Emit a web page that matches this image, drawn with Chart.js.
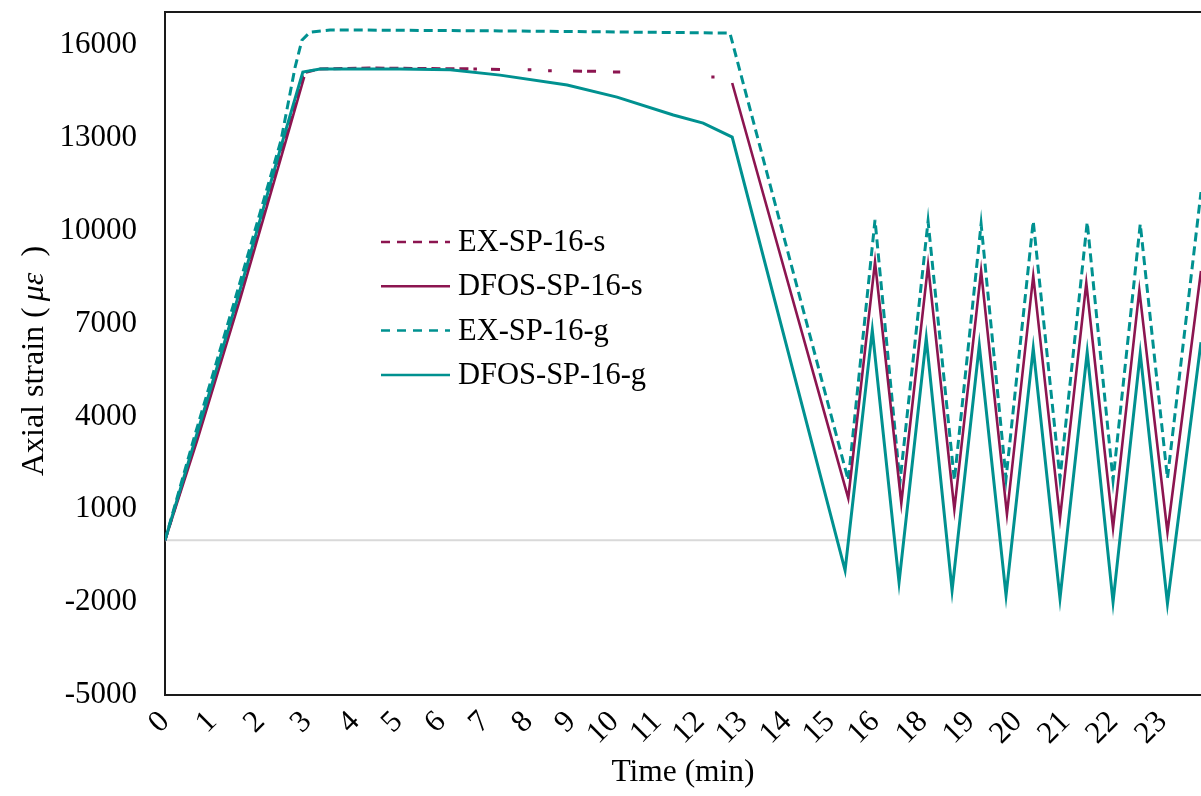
<!DOCTYPE html>
<html>
<head>
<meta charset="utf-8">
<script src="https://cdn.jsdelivr.net/npm/chart.js@4.4.1/dist/chart.umd.min.js"></script>
<style>
  html, body { margin: 0; padding: 0; background: #fff; }
  canvas { display: block; }
</style>
</head>
<body>
<canvas id="strainChart" width="1201" height="796"></canvas>
<script>
// time axis labels (17 is skipped in the original figure) and where they sit on the axis
const timeLabels = ['0', '1', '2', '3', '4', '5', '6', '7', '8', '9', '10', '11', '12',
                    '13', '14', '15', '16', '18', '19', '20', '21', '22', '23'];
const timeTickAt = [0, 1.04, 2.1, 3.13, 4.19, 5.14, 6.09, 7.06, 8.01, 8.96, 9.91, 10.85, 11.8,
                    12.75, 13.72, 14.67, 15.66, 16.72, 17.76, 18.8, 19.86, 20.92, 22.0];
const strainTicks = [-5000, -2000, 1000, 4000, 7000, 10000, 13000, 16000];

// EX-SP-16-s : extensometer, steel side (signal lost on the plateau)
const exS_t = [0, 0.68, 1.6, 2.62, 3.05, 3.4, 4.5, 6.88, null, 7.19, 7.39, null, 8.0, 8.08, null,
               8.45, 8.53, null, 9.0, 9.6, null, 9.88, 10.04, null, 12.05, 12.12];
const exS_v = [0, 3250, 7760, 12930, 15100, 15230, 15260, 15230, null, 15220, 15210, null, 15200, 15200, null,
               15170, 15170, null, 15160, 15150, null, 15130, 15130, null, 14970, 14970];

// DFOS-SP-16-s : fibre sensor, steel side
const dfosS_t = [0, 0.71, 1.65, 2.67, 3.07, null, 12.51, 15.07, 15.66, 16.24, 16.83, 17.41, 18.0,
                 18.57, 19.15, 19.74, 20.32, 20.91, 21.49, 22.11, 22.85];
const dfosS_v = [0, 3230, 7760, 12930, 14970, null, 14775, 1360, 8990, 1200, 8890, 1000, 8700,
                 840, 8540, 710, 8310, 390, 8080, 260, 8700];

// EX-SP-16-g : extensometer, GFRP side
const exG_t = [0, 0.64, 1.54, 2.56, 2.87, 3.02, 3.2, 3.64, 5.18, 7.39, 9.6, 12.46, 15.07, 15.66, 16.21,
               16.83, 17.41, 18.0, 18.55, 19.15, 19.74, 20.34, 20.91, 21.51, 22.11, 22.85];
const exG_v = [0, 3300, 7760, 12930, 15290, 16160, 16420, 16490, 16480, 16460, 16430, 16390, 1940, 10350, 1880,
               10310, 1940, 10220, 2000, 10310, 2000, 10280, 1940, 10220, 2000, 11250];

// DFOS-SP-16-g : fibre sensor, GFRP side
const dfosG_t = [0, 0.66, 0.93, 1.59, 2.6, 3.04, 3.42, 5.18, 6.29, 7.39, 8.87, 9.97, 11.21, 11.87, 12.51,
                 15.0, 15.6, 16.19, 16.79, 17.36, 17.96, 18.55, 19.15, 19.74, 20.34, 20.91, 21.51, 22.11, 22.85];
const dfosG_v = [0, 3230, 4530, 7760, 12930, 15130, 15230, 15230, 15200, 15030, 14710, 14320, 13740, 13480, 13030,
                 -970, 6790, -1360, 6530, -1620, 6300, -1780, 6200, -1880, 6080, -2000, 6040, -2040, 6400];

const maroon = '#8c1550';
const teal = '#009190';
const serif = "'Liberation Serif', 'Times New Roman', serif";
const fontSize = 31;

function pairs(ts, vs) {
    return ts.map((t, i) => (t === null ? { x: null, y: null } : { x: t, y: vs[i] }));
}

// grey zero line and the top edge of the plot frame
const frameLines = {
    id: 'frameLines',
    beforeDatasetsDraw(chart) {
        const ctx = chart.ctx, area = chart.chartArea;
        const y0 = chart.scales.y.getPixelForValue(0);
        ctx.save();
        ctx.strokeStyle = '#d9d9d9';
        ctx.lineWidth = 2;
        ctx.beginPath();
        ctx.moveTo(area.left, y0);
        ctx.lineTo(area.right, y0);
        ctx.stroke();
        ctx.strokeStyle = '#1a1a1a';
        ctx.beginPath();
        ctx.moveTo(area.left, area.top);
        ctx.lineTo(area.right, area.top);
        ctx.stroke();
        ctx.restore();
    }
};

// y axis title with the italic micro-strain symbol
const yTitle = {
    id: 'yTitle',
    afterDraw(chart) {
        const ctx = chart.ctx;
        // text, font style, space after
        const parts = [['Axial strain (', '', 6], ['\u03bc\u03b5', 'italic ', 8], [' )', '', 0]];
        ctx.save();
        ctx.translate(35, 361);
        ctx.rotate(-Math.PI / 2);
        ctx.fillStyle = '#000';
        ctx.textBaseline = 'middle';
        let total = 0;
        parts.forEach(p => { ctx.font = p[1] + '32px ' + serif; total += ctx.measureText(p[0]).width + p[2]; });
        let x = -total / 2;
        parts.forEach(p => {
            ctx.font = p[1] + '32px ' + serif;
            ctx.fillText(p[0], x, 0);
            x += ctx.measureText(p[0]).width + p[2];
        });
        ctx.restore();
    }
};

// legend drawn inside the plot, as in the original
const innerLegend = {
    id: 'innerLegend',
    afterDraw(chart) {
        const ctx = chart.ctx;
        const x0 = 381, y0 = 242, rowH = 44.3, sample = 69;
        ctx.save();
        ctx.font = '30.5px ' + serif;
        ctx.textBaseline = 'middle';
        chart.data.datasets.forEach((ds, i) => {
            const y = y0 + i * rowH;
            ctx.strokeStyle = ds.borderColor;
            ctx.lineWidth = 2.5;
            ctx.setLineDash(ds.borderDash ? [9, 7] : []);
            ctx.beginPath();
            ctx.moveTo(x0, y);
            ctx.lineTo(x0 + sample, y);
            ctx.stroke();
            ctx.setLineDash([]);
            ctx.fillStyle = '#000';
            ctx.fillText(ds.label, x0 + sample + 8, y + 1);
        });
        ctx.restore();
    }
};

const ctx = document.getElementById('strainChart').getContext('2d');
const strainChart = new Chart(ctx, {
    type: 'line',
    data: {
        datasets: [{
            label: 'EX-SP-16-s',
            data: pairs(exS_t, exS_v),
            borderColor: maroon,
            borderWidth: 3,
            borderDash: [9, 5],
            order: 4
        }, {
            label: 'DFOS-SP-16-s',
            data: pairs(dfosS_t, dfosS_v),
            borderColor: maroon,
            borderWidth: 2.6,
            order: 2
        }, {
            label: 'EX-SP-16-g',
            data: pairs(exG_t, exG_v),
            borderColor: teal,
            borderWidth: 3,
            borderDash: [9, 5],
            order: 3
        }, {
            label: 'DFOS-SP-16-g',
            data: pairs(dfosG_t, dfosG_v),
            borderColor: teal,
            borderWidth: 3,
            order: 1
        }]
    },
    options: {
        responsive: false,
        animation: false,
        spanGaps: false,
        layout: { padding: { top: 12, left: 0, right: 0, bottom: 0 } },
        elements: {
            point: { radius: 0 },
            line: { tension: 0, fill: false }
        },
        plugins: {
            legend: { display: false },
            tooltip: { enabled: false }
        },
        scales: {
            x: {
                type: 'linear',
                min: 0,
                max: 22.85,
                afterBuildTicks: scale => { scale.ticks = timeTickAt.map(v => ({ value: v })); },
                afterFit: scale => {
                    scale.height = 101;
                    scale.paddingLeft = 0;
                    scale.paddingRight = 0;
                },
                grid: { display: false, drawTicks: false },
                border: { display: true, color: '#1a1a1a', width: 2 },
                ticks: {
                    autoSkip: false,
                    minRotation: 45,
                    maxRotation: 45,
                    padding: 9,
                    color: '#000',
                    font: { family: serif, size: fontSize },
                    callback: (value, index) => timeLabels[index]
                },
                title: {
                    display: true,
                    text: 'Time (min)',
                    color: '#000',
                    font: { family: serif, size: 31.5 },
                    padding: { top: 0, bottom: 4 }
                }
            },
            y: {
                type: 'linear',
                min: -5000,
                max: 17070,
                afterBuildTicks: scale => { scale.ticks = strainTicks.map(v => ({ value: v })); },
                afterFit: scale => {
                    scale.width = 165;
                    scale.paddingTop = 0;
                    scale.paddingBottom = 0;
                },
                grid: { display: false, drawTicks: false },
                border: { display: true, color: '#1a1a1a', width: 2 },
                ticks: {
                    padding: 28,
                    color: '#000',
                    font: { family: serif, size: fontSize },
                    callback: value => String(value)
                }
            }
        }
    },
    plugins: [frameLines, yTitle, innerLegend]
});
</script>
</body>
</html>
